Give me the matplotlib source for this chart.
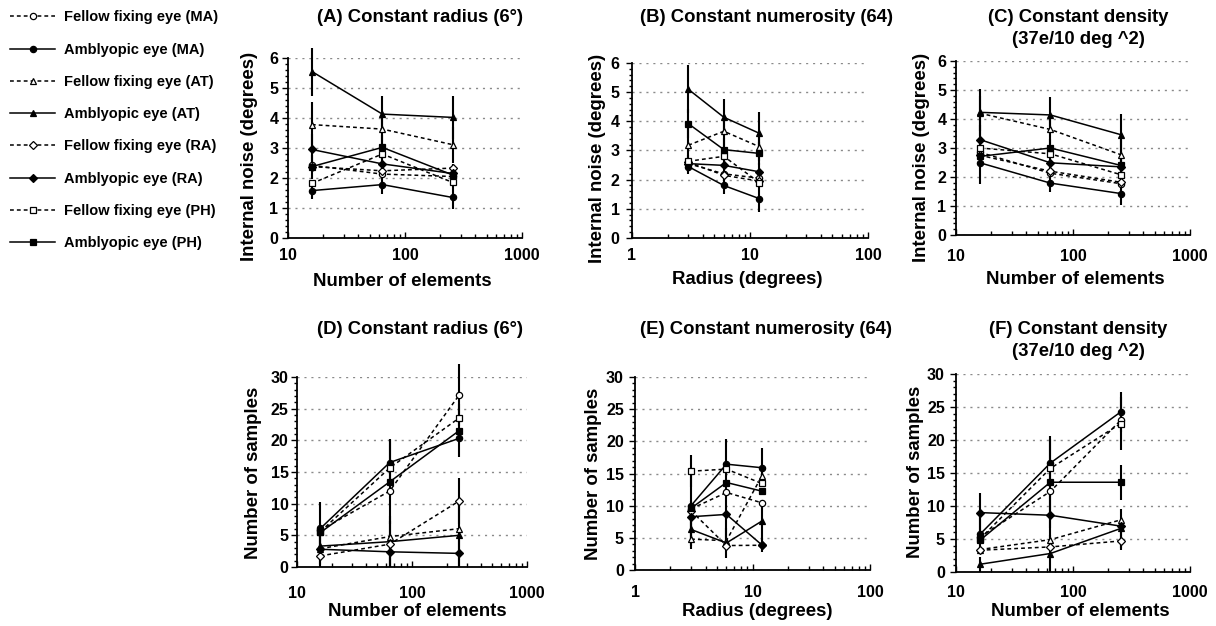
import matplotlib
matplotlib.use("Agg")
import matplotlib.pyplot as plt
from matplotlib.lines import Line2D
from matplotlib.ticker import LogLocator, MultipleLocator, NullFormatter

plt.rcParams['font.family'] = ['Liberation Sans', 'DejaVu Sans']
plt.rcParams['font.weight'] = 'bold'

# x values
elements = [16, 64, 256]
radii = [3, 6, 12]

series_labels = ["Fellow fixing eye (MA)", "Amblyopic eye (MA)",
                 "Fellow fixing eye (AT)", "Amblyopic eye (AT)",
                 "Fellow fixing eye (RA)", "Amblyopic eye (RA)",
                 "Fellow fixing eye (PH)", "Amblyopic eye (PH)"]

# (A) internal noise, constant radius
noise_radius = [[2.42, 2.13, 2.05], [1.58, 1.78, 1.35], [3.78, 3.63, 3.11], [5.55, 4.13, 4.02],
                [2.38, 2.24, 2.33], [2.95, 2.47, 2.15], [1.82, 2.80, 1.85], [2.38, 3.02, 2.10]]
noise_radius_err = [[0, 0, 0], [0.28, 0.30, 0.40], [0.75, 0.50, 0.60], [0.80, 0.60, 0.72],
                    [0, 0, 0], [0.50, 0.30, 0.30], [0, 0, 0], [0.40, 0.40, 0.30]]

# (B) internal noise, constant numerosity
noise_numer = [[2.55, 2.20, 2.05], [2.45, 1.80, 1.35], [3.18, 3.66, 3.13], [5.10, 4.14, 3.59],
               [2.60, 2.15, 1.95], [2.55, 2.49, 2.27], [2.63, 2.80, 1.90], [3.92, 3.03, 2.90]]
noise_numer_err = [[0, 0, 0], [0.25, 0.30, 0.45], [0.60, 0.50, 0.50], [0.83, 0.63, 0.74],
                   [0, 0, 0], [0.30, 0.30, 0.30], [0, 0, 0], [0.50, 0.40, 0.40]]

# (C) internal noise, constant density
noise_density = [[2.85, 2.13, 1.77], [2.49, 1.79, 1.43], [4.20, 3.64, 2.77], [4.23, 4.14, 3.46],
                 [2.75, 2.20, 1.82], [3.29, 2.49, 2.35], [3.00, 2.80, 2.08], [2.71, 3.00, 2.40]]
noise_density_err = [[0, 0, 0], [0.74, 0.31, 0.41], [0.60, 0.50, 0.50], [0.80, 0.63, 0.71],
                     [0, 0, 0], [0.50, 0.40, 0.40], [0, 0, 0], [0.30, 0.30, 0.30]]

# (D) number of samples, constant radius
samples_radius = [[5.8, 12.0, 27.1], [6.1, 16.5, 20.3], [2.9, 4.8, 6.05], [3.3, 4.0, 5.0],
                  [1.76, 3.6, 10.4], [2.8, 2.4, 2.15], [5.6, 15.65, 23.5], [5.45, 13.45, 21.5]]
samples_radius_err = [[0, 0, 4.9], [4.1, 3.6, 0], [0, 0, 0], [3.0, 4.0, 5.0],
                      [0, 3.6, 3.6], [2.8, 2.4, 2.15], [0, 0, 0], [0, 6.7, 4.2]]

# (E) number of samples, constant numerosity
samples_numer = [[9.5, 12.05, 10.45], [10.0, 16.45, 15.9], [4.8, 4.55, 14.6], [6.3, 4.2, 7.6],
                 [9.2, 3.8, 3.85], [8.28, 8.64, 3.9], [15.36, 15.68, 13.45], [9.6, 13.6, 12.26]]
samples_numer_err = [[0, 0, 0], [5.0, 3.85, 3.0], [1.6, 0, 0], [2.5, 2.4, 3.0],
                     [0, 0, 0], [2.5, 4.0, 1.05], [2.5, 0, 0], [0, 0, 0]]

# (F) number of samples, constant density
samples_density = [[5.3, 12.2, 23.0], [5.7, 16.5, 24.26], [3.4, 4.9, 7.9], [1.17, 2.8, 6.6],
                   [3.3, 3.8, 4.7], [9.0, 8.6, 6.95], [5.0, 15.7, 22.5], [4.8, 13.6, 13.6]]
samples_density_err = [[0, 0, 0], [3.0, 3.65, 3.05], [0, 0, 0], [1.17, 2.8, 3.0],
                       [0, 0, 1.4], [3.0, 4.0, 0], [0, 0, 4.0], [0, 7.0, 2.65]]

# marker, filled
styles = [('o', False), ('o', True), ('^', False), ('^', True),
          ('D', False), ('D', True), ('s', False), ('s', True)]

W, H = 1216, 626
fig = plt.figure(figsize=(W / 100, H / 100), dpi=100)


def rect(l, t, r, b):
    return [l / W, 1 - b / H, (r - l) / W, (b - t) / H]


def line_kw(marker, filled):
    ms = {'o': 4.5, '^': 5, 'D': 3.8, 's': 4.8}[marker]
    return dict(color='black', lw=1.1, ls='-' if filled else (0, (2.5, 2)),
                marker=marker, ms=ms, mfc='black' if filled else 'white',
                mec='black', mew=0.9)


def panel(box, x, means, errs, ymax, ystep, yminor, xlim, xticks, xpad, ypad):
    ax = fig.add_axes(rect(*box))
    for m, e in zip(means, errs):
        ax.errorbar(x, m, yerr=e, fmt='none', ecolor='black', elinewidth=1.5,
                    capsize=0, clip_on=False, zorder=2)
    for (marker, filled), m in zip(styles, means):
        ax.plot(x, m, clip_on=False, zorder=3, **line_kw(marker, filled))
    ax.set_xscale('log')
    ax.set_xlim(*xlim)
    ax.set_xticks(xticks, [str(t) for t in xticks])
    ax.xaxis.set_minor_locator(LogLocator(base=10, subs=range(2, 10)))
    ax.xaxis.set_minor_formatter(NullFormatter())
    ax.set_ylim(0, ymax)
    ax.yaxis.set_major_locator(MultipleLocator(ystep))
    ax.yaxis.set_minor_locator(MultipleLocator(yminor))
    ax.grid(axis='y', which='major', color='#8a8a8a', lw=1, ls=(0, (1.5, 3.5)), zorder=0)
    ax.set_axisbelow(True)
    for s in ['top', 'right']:
        ax.spines[s].set_visible(False)
    for s in ['left', 'bottom']:
        ax.spines[s].set_linewidth(1.3)
    ax.tick_params(axis='x', which='both', direction='in', labelsize=11.5, pad=xpad, width=1)
    ax.tick_params(axis='x', which='major', length=4)
    ax.tick_params(axis='x', which='minor', length=3)
    ax.tick_params(axis='y', which='both', direction='out', labelsize=11.5, pad=ypad, width=1)
    ax.tick_params(axis='y', which='major', length=4)
    ax.tick_params(axis='y', which='minor', length=2.5)
    return ax


panel((288, 58, 522, 238), elements, noise_radius, noise_radius_err, 6, 1, 0.2, (10, 1000), [10, 100, 1000], 7, 3)
panel((632, 63, 868, 238), radii, noise_numer, noise_numer_err, 6, 1, 0.2, (1, 100), [1, 10, 100], 7, 5)
panel((956, 61, 1190, 235), elements, noise_density, noise_density_err, 6, 1, 0.2, (10, 1000), [10, 100, 1000], 10, 3)
panel((297, 377, 527, 567), elements, samples_radius, samples_radius_err, 30, 5, 1, (10, 1000), [10, 100, 1000], 14, 2)
panel((635, 377, 870, 570), radii, samples_numer, samples_numer_err, 30, 5, 1, (1, 100), [1, 10, 100], 11, 4)
panel((956, 374, 1190, 572), elements, samples_density, samples_density_err, 30, 5, 1, (10, 1000), [10, 100, 1000], 9.5, 4)


def ftext(x, y, s, **kw):
    fig.text(x / W, 1 - y / H, s, ha='center', va='center', fontweight='bold', **kw)


# titles
ftext(420, 18, "(A) Constant radius (6°)", fontsize=13.3)
ftext(766, 18, "(B) Constant numerosity (64)", fontsize=13.3)
ftext(1078, 18, "(C) Constant density", fontsize=13.3)
ftext(1078, 40, "(37e/10 deg ^2)", fontsize=13.3)
ftext(420, 329, "(D) Constant radius (6°)", fontsize=13.3)
ftext(766, 329, "(E) Constant numerosity (64)", fontsize=13.3)
ftext(1078, 329, "(F) Constant density", fontsize=13.3)
ftext(1078, 351, "(37e/10 deg ^2)", fontsize=13.3)

# axis labels
ftext(402, 281, "Number of elements", fontsize=13.4)
ftext(747, 279, "Radius (degrees)", fontsize=13.4)
ftext(1075, 280, "Number of elements", fontsize=13.4)
ftext(417, 611, "Number of elements", fontsize=13.4)
ftext(757, 611, "Radius (degrees)", fontsize=13.4)
ftext(1080, 611, "Number of elements", fontsize=13.4)
ftext(250, 156, "Internal noise (degrees)", fontsize=13.4, rotation=90)
ftext(598, 158, "Internal noise (degrees)", fontsize=13.4, rotation=90)
ftext(922, 157, "Internal noise (degrees)", fontsize=13.4, rotation=90)
ftext(253, 473, "Number of samples", fontsize=13.4, rotation=90)
ftext(594, 474, "Number of samples", fontsize=13.4, rotation=90)
ftext(915, 472, "Number of samples", fontsize=13.4, rotation=90)

# legend
handles = [Line2D([], [], **line_kw(m, f)) for m, f in styles]
fig.legend(handles, series_labels, loc='upper left', bbox_to_anchor=(10 / W, 1 - 10.5 / H),
           frameon=False, fontsize=10.5, handlelength=3.1, handletextpad=0.6,
           labelspacing=1.25, borderpad=0, borderaxespad=0, numpoints=1,
           prop={'weight': 'bold', 'size': 10.5})

fig.savefig("out.png", dpi=100)
